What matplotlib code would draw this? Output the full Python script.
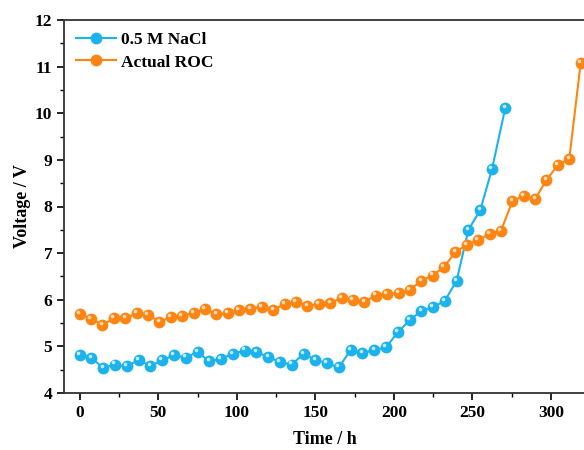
import matplotlib
matplotlib.use('Agg')
import matplotlib.pyplot as plt
import matplotlib.transforms as mtransforms
from matplotlib.ticker import MultipleLocator
import numpy as np

plt.rcParams['font.family'] = ['Liberation Serif', 'DejaVu Serif']
plt.rcParams['font.weight'] = 'bold'

# Data
nacl_time = [0, 7.5, 15, 22.5, 30, 37.5, 45, 52.5, 60, 67.5, 75, 82.5, 90, 97.5,
             105, 112.5, 120, 127.5, 135, 142.5, 150, 157.5, 165, 172.5, 180,
             187.5, 195, 202.5, 210, 217.5, 225, 232.5, 240, 247.5, 255, 262.5, 271]
nacl_volt = [4.82, 4.75, 4.54, 4.61, 4.57, 4.71, 4.58, 4.70, 4.81, 4.76, 4.88, 4.68,
             4.73, 4.84, 4.91, 4.87, 4.78, 4.66, 4.61, 4.84, 4.71, 4.64, 4.55, 4.92,
             4.86, 4.92, 4.98, 5.30, 5.56, 5.76, 5.84, 5.98, 6.41, 7.50, 7.92, 8.80, 10.12]

roc_time = [0, 7.2, 14.5, 21.7, 29.0, 36.2, 43.5, 50.7, 58.0, 65.2, 72.5, 79.7,
            87.0, 94.2, 101.5, 108.7, 116.0, 123.2, 130.5, 137.7, 145.0, 152.2,
            159.5, 166.7, 174.0, 181.2, 188.5, 195.7, 203.0, 210.2, 217.5, 224.7,
            232.0, 239.2, 246.5, 253.7, 261.0, 268.2, 275.5, 282.7, 290.0, 297.2,
            304.5, 311.7, 319.0]
roc_volt = [5.70, 5.59, 5.46, 5.60, 5.60, 5.71, 5.68, 5.53, 5.62, 5.66, 5.72, 5.81,
            5.69, 5.71, 5.77, 5.81, 5.85, 5.78, 5.91, 5.96, 5.87, 5.91, 5.93, 6.04,
            6.00, 5.96, 6.09, 6.13, 6.14, 6.21, 6.41, 6.52, 6.71, 7.02, 7.18, 7.28,
            7.41, 7.48, 8.11, 8.23, 8.16, 8.57, 8.89, 9.02, 11.08]

blue = '#1BB2EE'
orange = '#FF8512'

fig = plt.figure(figsize=(5.84, 4.5), dpi=100)
# axes extends past the right edge of the image, like the reference
ax = fig.add_axes([64/584, 57/450, 534/584, 373/450])

ms = 8.5
for t, v, c, lab in [(nacl_time, nacl_volt, blue, '0.5 M NaCl'),
                     (roc_time, roc_volt, orange, 'Actual ROC')]:
    ax.plot(t, v, '-o', color=c, lw=1.5, markersize=ms, markeredgewidth=0,
            label=lab, zorder=3)
    # small glossy highlight on each ball
    shift = mtransforms.offset_copy(ax.transData, fig=fig, x=-1.2, y=1.5, units='points')
    ax.plot(t, v, 'o', color='white', alpha=0.75, markersize=2.6,
            markeredgewidth=0, transform=shift, zorder=4)

ax.set_xlim(-10, 330)
ax.set_ylim(4, 12)
ax.xaxis.set_major_locator(MultipleLocator(50))
ax.xaxis.set_minor_locator(MultipleLocator(25))
ax.yaxis.set_major_locator(MultipleLocator(1))
ax.yaxis.set_minor_locator(MultipleLocator(0.5))
ax.tick_params(which='major', length=5, width=1.2, labelsize=12.5)
ax.tick_params(which='minor', length=3, width=1.0)
for s in ax.spines.values():
    s.set_linewidth(1.3)
    s.set_color('#333333')

ax.set_xlabel('Time / h', fontsize=13, fontweight='bold')
ax.set_ylabel('Voltage / V', fontsize=13, fontweight='bold')
ax.xaxis.set_label_coords(0.489, -0.102)
ax.yaxis.set_label_coords(-0.062, 0.5)

ax.legend(loc='upper left', frameon=False, fontsize=12.5, handlelength=2.3,
          handletextpad=0.3, borderaxespad=0.3, labelspacing=0.35,
          bbox_to_anchor=(0.0, 1.0))

fig.savefig('out.png', dpi=100)
